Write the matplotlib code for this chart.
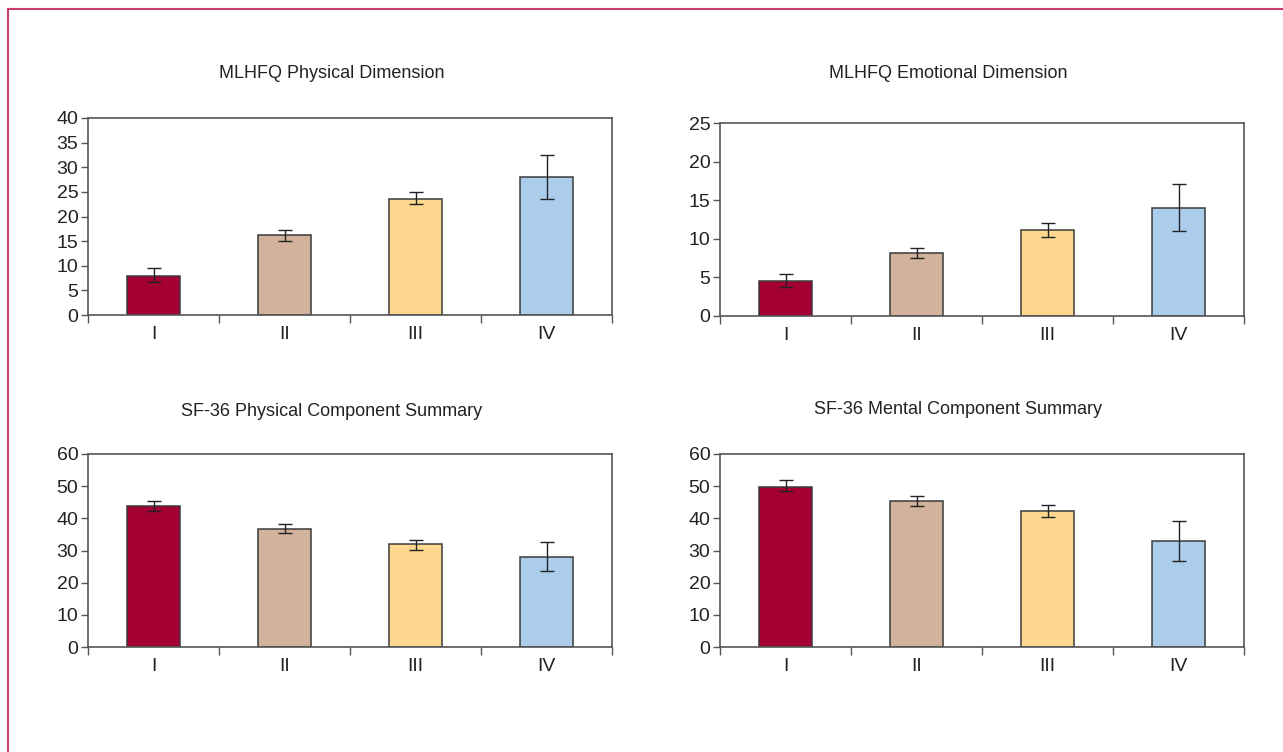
import matplotlib
matplotlib.use("Agg")
import matplotlib.pyplot as plt
from matplotlib.lines import Line2D
from matplotlib import font_manager

categories = ["I", "II", "III", "IV"]
colors = ["#A50034", "#D2B29C", "#FED88E", "#ABCDEB"]

titles = ["MLHFQ Physical Dimension", "MLHFQ Emotional Dimension",
          "SF-36 Physical Component Summary", "SF-36 Mental Component Summary"]

phys_vals = [8.0, 16.2, 23.6, 28.0]
phys_lo = [6.7, 15.1, 22.5, 23.6]
phys_hi = [9.6, 17.2, 24.9, 32.4]

emo_vals = [4.5, 8.2, 11.1, 14.0]
emo_lo = [3.7, 7.5, 10.2, 11.0]
emo_hi = [5.5, 8.8, 12.0, 17.1]

pcs_vals = [43.9, 36.8, 32.0, 28.0]
pcs_lo = [42.3, 35.5, 30.3, 23.7]
pcs_hi = [45.4, 38.2, 33.2, 32.7]

mcs_vals = [49.7, 45.5, 42.3, 32.8]
mcs_lo = [48.4, 43.9, 40.5, 26.8]
mcs_hi = [51.9, 47.0, 44.3, 39.3]

yticks_list = [list(range(0, 41, 5)), list(range(0, 26, 5)),
               list(range(0, 61, 10)), list(range(0, 61, 10))]

names = [f.name for f in font_manager.fontManager.ttflist]
fam = "Liberation Sans Narrow" if "Liberation Sans Narrow" in names else "Liberation Sans"
plt.rcParams['font.family'] = [fam, 'DejaVu Sans']

fig = plt.figure(figsize=(12.83, 7.52), dpi=100)
W, H = 1283, 752

# axes boxes in pixels: left, right, top(y of max), bottom(y of 0)
boxes = [(88, 612, 118, 315), (720, 1244, 123, 316),
         (88, 612, 454, 647), (720, 1244, 454, 647)]
title_pos = [(332, 74), (948, 74), (332, 411), (958, 409)]

data = [(phys_vals, phys_lo, phys_hi), (emo_vals, emo_lo, emo_hi),
        (pcs_vals, pcs_lo, pcs_hi), (mcs_vals, mcs_lo, mcs_hi)]

spine_col = "#555555"
for i, (box, (vals, lo, hi)) in enumerate(zip(boxes, data)):
    l, r, t, b = box
    ax = fig.add_axes([l / W, 1 - b / H, (r - l) / W, (b - t) / H])
    x = list(range(len(categories)))
    ax.bar(x, vals, width=0.41, color=colors, edgecolor="#3a3a3a", linewidth=1.1, zorder=2)
    yerr = [[v - a for v, a in zip(vals, lo)], [c - v for v, c in zip(vals, hi)]]
    ax.errorbar(x, vals, yerr=yerr, fmt="none", ecolor="#222222", elinewidth=1.0,
                capsize=5, capthick=1.0, zorder=3)
    ax.set_xlim(-0.5, 3.5)
    yt = yticks_list[i]
    ax.set_ylim(0, yt[-1])
    ax.set_yticks(yt)
    ax.set_yticklabels([str(v) for v in yt])
    ax.set_xticks([-0.5, 0.5, 1.5, 2.5, 3.5])
    ax.set_xticklabels([])
    ax.set_xticks(x, minor=True)
    ax.set_xticklabels(categories, minor=True)
    ax.tick_params(axis="x", which="major", length=6, width=1, color=spine_col, direction="out")
    ax.tick_params(axis="x", which="minor", length=0, pad=8, labelsize=14, labelcolor="#222222")
    ax.tick_params(axis="y", length=5, width=1, color=spine_col, direction="out",
                   labelsize=14, labelcolor="#222222", pad=2)
    for s in ax.spines.values():
        s.set_color(spine_col)
        s.set_linewidth(1.2)
    fig.text(title_pos[i][0] / W, 1 - title_pos[i][1] / H, titles[i],
             ha="center", va="center", fontsize=13, color="#222222")

# page border (top and left)
bc = "#C8406A"
fig.add_artist(Line2D([8 / W, 8 / W], [0, 1 - 9 / H], color=bc, linewidth=1.5, transform=fig.transFigure))
fig.add_artist(Line2D([8 / W, 1], [1 - 9 / H, 1 - 9 / H], color=bc, linewidth=1.5, transform=fig.transFigure))

fig.savefig("out.png", dpi=100)
